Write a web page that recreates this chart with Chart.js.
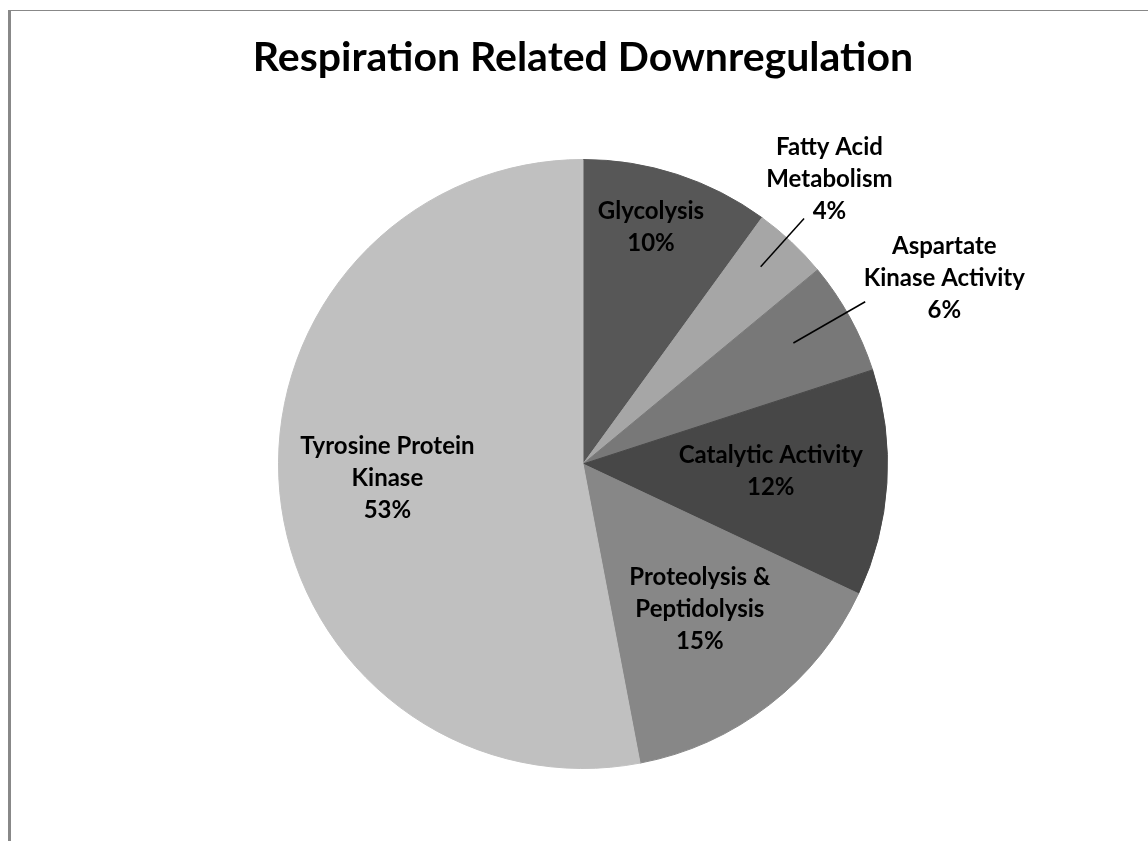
<!DOCTYPE html>
<html>
<head>
<meta charset="utf-8">
<title>Respiration Related Downregulation</title>
<script src="https://cdn.jsdelivr.net/npm/chart.js@4"></script>
<style>
  html, body { margin: 0; padding: 0; background: #fff; }
  #wrap { width: 1148px; height: 841px; position: relative; }
</style>
</head>
<body>
<div id="wrap"><canvas id="pieChart" width="1148" height="841"></canvas></div>
<script>
// data
const categories = ['Glycolysis', 'Fatty Acid Metabolism', 'Aspartate Kinase Activity',
  'Catalytic Activity', 'Proteolysis & Peptidolysis', 'Tyrosine Protein Kinase'];
const percents = [10, 4, 6, 12, 15, 53];
const labelLines = [
  ['Glycolysis'],
  ['Fatty Acid', 'Metabolism'],
  ['Aspartate', 'Kinase Activity'],
  ['Catalytic Activity'],
  ['Proteolysis &', 'Peptidolysis'],
  ['Tyrosine Protein', 'Kinase']
];
const sliceColors = ['#575757', '#a6a6a6', '#787878', '#474747', '#878787', '#c0c0c0'];

// label placement: radius as fraction of pie radius, angle offset in degrees from slice middle
const labelPos = [
  { r: 0.81, da: -2.0 },
  { r: 1.236, da: -2.3, lead: [0.872, 1.085, -1.2] },
  { r: 1.334, da: 1.6, lead: [0.797, 1.069, -1.1] },
  { r: 0.617, da: -1.5 },
  { r: 0.611, da: -1.1 },
  { r: 0.644, da: 1.3 }
];

const FONT = 'Lato, "Open Sans", sans-serif';

const frameAndLabels = {
  id: 'frameAndLabels',
  beforeDraw(chart) {
    const c = chart.ctx;
    c.save();
    c.fillStyle = '#888';
    c.fillRect(8, 10, 3, chart.height - 10);
    c.fillRect(8, 10, chart.width - 8, 1);
    c.restore();
  },
  afterDatasetsDraw(chart) {
    const c = chart.ctx;
    const arcs = chart.getDatasetMeta(0).data;
    c.save();
    c.font = 'bold 24px ' + FONT;
    c.fillStyle = '#000';
    c.textAlign = 'center';
    c.textBaseline = 'middle';
    arcs.forEach((arc, i) => {
      const p = labelPos[i];
      const mid = (arc.startAngle + arc.endAngle) / 2;
      const R = arc.outerRadius;
      const a = mid + p.da * Math.PI / 180;
      const cx = arc.x + Math.cos(a) * R * p.r;
      const cy = arc.y + Math.sin(a) * R * p.r;
      const lines = labelLines[i].concat([percents[i] + '%']);
      const lh = 32;
      const top = cy - (lines.length - 1) * lh / 2;
      lines.forEach((t, k) => c.fillText(t, cx, top + k * lh));
      if (p.lead) {
        const la = mid + p.lead[2] * Math.PI / 180;
        c.beginPath();
        c.strokeStyle = '#000';
        c.lineWidth = 1.5;
        c.moveTo(arc.x + Math.cos(la) * R * p.lead[0], arc.y + Math.sin(la) * R * p.lead[0]);
        c.lineTo(arc.x + Math.cos(la) * R * p.lead[1], arc.y + Math.sin(la) * R * p.lead[1]);
        c.stroke();
      }
    });
    c.restore();
  }
};

const ctx = document.getElementById('pieChart').getContext('2d');
new Chart(ctx, {
  type: 'pie',
  data: {
    labels: categories,
    datasets: [{
      data: percents,
      backgroundColor: sliceColors,
      borderColor: sliceColors,
      borderWidth: 1
    }]
  },
  options: {
    responsive: false,
    animation: false,
    layout: { padding: { top: 0, bottom: 72, left: 18, right: 0 } },
    plugins: {
      legend: { display: false },
      tooltip: { enabled: false },
      title: {
        display: true,
        text: 'Respiration Related Downregulation',
        color: '#000',
        font: { family: FONT, size: 41, weight: 'bold', lineHeight: 1.2 },
        padding: { top: 33.4, bottom: 76.4 }
      }
    }
  },
  plugins: [frameAndLabels]
});
</script>
</body>
</html>
